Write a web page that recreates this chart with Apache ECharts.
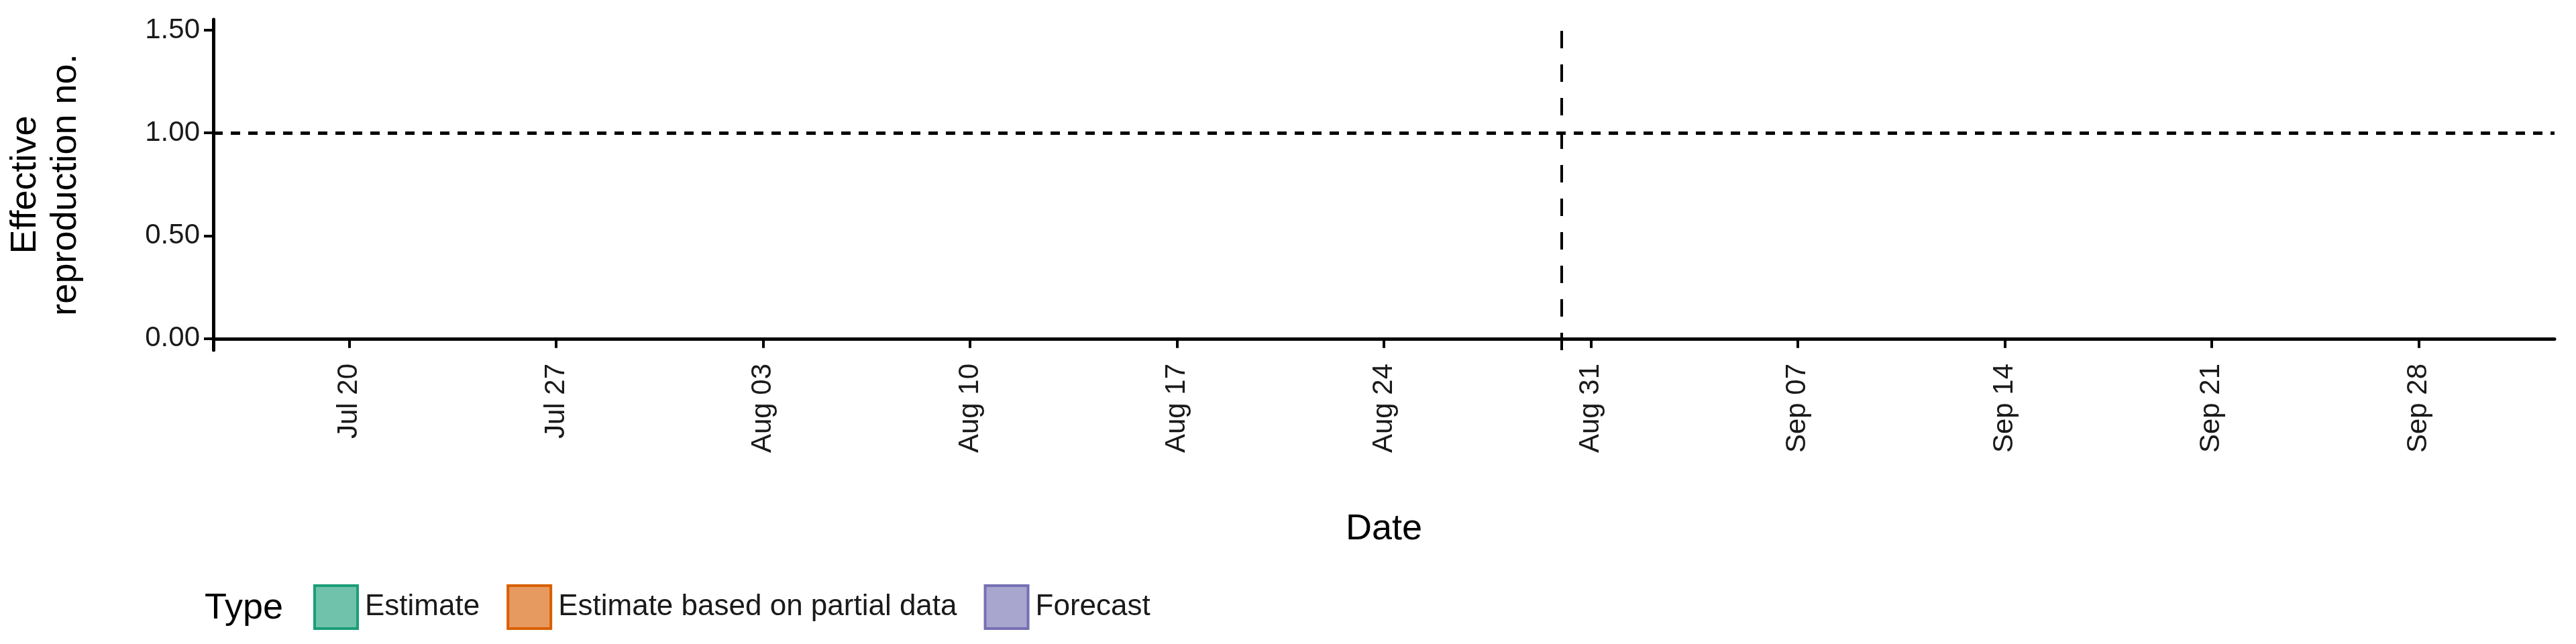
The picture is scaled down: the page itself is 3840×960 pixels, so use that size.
<!DOCTYPE html>
<html>
<head>
<meta charset="utf-8">
<script src="https://cdn.jsdelivr.net/npm/echarts@6/dist/echarts.min.js"></script>
<style>
  html, body { margin: 0; padding: 0; background: #fff; }
  #chart { width: 3840px; height: 960px; }
</style>
</head>
<body>
<div id="chart"></div>
<script>
// start dates of each part
var estStart = '2020-07-19';
var partialStart = '2020-08-13';
var forecastStart = '2020-08-31';
var cutoffDate = '2020-08-30';

// Estimate (Jul 19 - Aug 12)
var estOuterLow = [0.886, 0.875, 0.872, 0.863, 0.854, 0.851, 0.828, 0.828, 0.816, 0.814, 0.807, 0.807, 0.805, 0.793, 0.787, 0.779, 0.779, 0.777, 0.776, 0.775, 0.758, 0.748, 0.740, 0.728, 0.731];
var estInnerLow = [0.951, 0.945, 0.947, 0.947, 0.941, 0.940, 0.933, 0.931, 0.927, 0.922, 0.919, 0.919, 0.916, 0.912, 0.907, 0.903, 0.900, 0.899, 0.898, 0.898, 0.892, 0.889, 0.886, 0.881, 0.875];
var estInnerHigh = [1.006, 1.006, 1.009, 1.009, 1.006, 1.006, 1.001, 0.998, 0.998, 0.997, 0.996, 0.996, 0.995, 0.995, 0.995, 0.994, 0.994, 0.994, 0.993, 0.993, 0.993, 0.992, 0.992, 0.991, 0.990];
var estOuterHigh = [1.109, 1.107, 1.103, 1.105, 1.088, 1.080, 1.066, 1.066, 1.064, 1.050, 1.048, 1.048, 1.041, 1.044, 1.050, 1.050, 1.047, 1.047, 1.050, 1.052, 1.053, 1.054, 1.056, 1.056, 1.066];

// Estimate based on partial data (Aug 13 - Aug 30)
var partOuterLow = [0.731, 0.711, 0.701, 0.672, 0.658, 0.656, 0.617, 0.578, 0.570, 0.564, 0.561, 0.535, 0.509, 0.503, 0.509, 0.498, 0.441, 0.426];
var partInnerLow = [0.878, 0.872, 0.872, 0.869, 0.861, 0.856, 0.860, 0.860, 0.851, 0.848, 0.848, 0.840, 0.831, 0.828, 0.831, 0.818, 0.822, 0.824];
var partInnerHigh = [1.004, 1.006, 1.008, 1.007, 1.007, 1.009, 1.014, 1.015, 1.014, 1.015, 1.018, 1.015, 1.015, 1.015, 1.021, 1.012, 1.018, 1.025];
var partOuterHigh = [1.085, 1.089, 1.107, 1.097, 1.118, 1.142, 1.132, 1.117, 1.136, 1.155, 1.176, 1.182, 1.183, 1.188, 1.214, 1.224, 1.199, 1.200];

// Forecast (Aug 31 - Sep 29)
var fcOuterLow = [0.409, 0.400, 0.392, 0.385, 0.438, 0.433, 0.345, 0.395, 0.386, 0.371, 0.375, 0.377, 0.377, 0.377, 0.356, 0.371, 0.363, 0.299, 0.304, 0.303, 0.303, 0.324, 0.303, 0.293, 0.286, 0.280, 0.283, 0.280, 0.258, 0.254];
var fcInnerLow = [0.824, 0.822, 0.814, 0.810, 0.804, 0.795, 0.793, 0.793, 0.799, 0.804, 0.802, 0.802, 0.802, 0.796, 0.795, 0.793, 0.787, 0.781, 0.785, 0.785, 0.787, 0.783, 0.781, 0.781, 0.783, 0.779, 0.772, 0.766, 0.761, 0.769];
var fcInnerHigh = [1.033, 1.036, 1.033, 1.030, 1.030, 1.027, 1.025, 1.027, 1.036, 1.047, 1.048, 1.050, 1.053, 1.044, 1.048, 1.050, 1.048, 1.041, 1.048, 1.053, 1.054, 1.066, 1.060, 1.062, 1.068, 1.056, 1.056, 1.056, 1.059, 1.068];
var fcOuterHigh = [1.203, 1.224, 1.234, 1.253, 1.322, 1.335, 1.265, 1.329, 1.331, 1.322, 1.334, 1.345, 1.361, 1.378, 1.367, 1.388, 1.388, 1.334, 1.349, 1.355, 1.361, 1.393, 1.381, 1.388, 1.396, 1.407, 1.437, 1.437, 1.446, 1.474];

var xTicks = ['2020-07-20', '2020-07-27', '2020-08-03', '2020-08-10', '2020-08-17', '2020-08-24', '2020-08-31', '2020-09-07', '2020-09-14', '2020-09-21', '2020-09-28'];
var yTicks = [0, 0.5, 1, 1.5];
var typeNames = ['Estimate', 'Estimate based on partial data', 'Forecast'];

var MONTHS = ['Jan', 'Feb', 'Mar', 'Apr', 'May', 'Jun', 'Jul', 'Aug', 'Sep', 'Oct', 'Nov', 'Dec'];
// x is measured in days since epoch (value axis)
function day(s) { var p = s.split('-'); return Date.UTC(+p[0], +p[1] - 1, +p[2]) / 86400000; }
function fmtDate(v) {
  var d = new Date(Math.round(v) * 86400000);
  var dd = d.getUTCDate();
  return MONTHS[d.getUTCMonth()] + ' ' + (dd < 10 ? '0' + dd : dd);
}

var series = [];
// one band = invisible base + filled difference, stacked
function band(id, start, low, high, fill, edge) {
  var d0 = day(start);
  series.push({
    type: 'line', stack: id, symbol: 'none', silent: true,
    lineStyle: { opacity: 0 },
    data: low.map(function (v, i) { return [d0 + i, v]; })
  });
  series.push({
    type: 'line', stack: id, symbol: 'none', silent: true,
    lineStyle: edge ? { color: edge, width: 2 } : { opacity: 0 },
    areaStyle: { color: fill, opacity: 1 },
    data: high.map(function (v, i) { return [d0 + i, v - low[i]]; })
  });
}
band('e1', estStart, estOuterLow, estOuterHigh, '#c4e6dc', '#8dd0bb');
band('e2', estStart, estInnerLow, estInnerHigh, '#70c2ab', null);
band('p1', partialStart, partOuterLow, partOuterHigh, '#f5d6bd', '#eeae80');
band('p2', partialStart, partInnerLow, partInnerHigh, '#e69a60', null);
band('f1', forecastStart, fcOuterLow, fcOuterHigh, '#dcdbeb', '#b8b5d8');
band('f2', forecastStart, fcInnerLow, fcInnerHigh, '#a8a5cf', null);

// reference lines
series.push({
  type: 'line', data: [], silent: true,
  markLine: {
    symbol: 'none', silent: true, label: { show: false },
    data: [
      { yAxis: 1, lineStyle: { color: '#000', width: 5, type: [14, 12] } },
      { xAxis: day(cutoffDate), lineStyle: { color: '#000', width: 4, type: [26, 24] } }
    ]
  }
});

// legend entries
var legendFill = ['#70c2ab', '#e69a60', '#a8a5cf'];
var legendEdge = ['#1b9e77', '#d95f02', '#7570b3'];
typeNames.forEach(function (n, i) {
  series.push({
    type: 'line', name: n, data: [], symbol: 'rect',
    lineStyle: { opacity: 0 },
    itemStyle: { color: legendFill[i], borderColor: legendEdge[i], borderWidth: 4 }
  });
});

var chart = echarts.init(document.getElementById('chart'));
chart.setOption({
  animation: false,
  grid: { left: 306, right: 32, top: 29, bottom: 438 },
  legend: {
    data: typeNames,
    left: 462, top: 866,
    icon: 'rect',
    itemWidth: 64, itemHeight: 64, itemGap: 40,
    itemStyle: { borderWidth: 4 },
    textStyle: { fontFamily: 'Liberation Sans', fontSize: 44, color: '#1a1a1a', padding: [0, 0, 0, 6] }
  },
  graphic: [{
    type: 'text', left: 305, top: 880,
    style: { text: 'Type', fontFamily: 'Liberation Sans', fontSize: 54, fill: '#000' }
  }],
  xAxis: {
    type: 'value',
    min: day('2020-07-15') + 0.4,
    max: day('2020-10-02') + 0.6,
    name: 'Date', nameLocation: 'middle', nameGap: 240,
    nameTextStyle: { fontFamily: 'Liberation Sans', fontSize: 54, color: '#000' },
    axisLine: { lineStyle: { color: '#000', width: 5 } },
    axisTick: { customValues: xTicks.map(day), length: 14, lineStyle: { color: '#000', width: 4 } },
    axisLabel: {
      customValues: xTicks.map(day), rotate: 90, margin: 20,
      fontFamily: 'Liberation Sans', fontSize: 42, color: '#1a1a1a',
      formatter: function (v) { return fmtDate(v); }
    },
    splitLine: { show: false }
  },
  yAxis: {
    type: 'value', min: -0.056, max: 1.552,
    name: 'Effective\nreproduction no.', nameLocation: 'middle', nameGap: 190,
    nameTextStyle: { fontFamily: 'Liberation Sans', fontSize: 54, color: '#000', lineHeight: 60 },
    axisLine: { show: true, lineStyle: { color: '#000', width: 5 } },
    axisTick: { show: true, customValues: yTicks, length: 14, lineStyle: { color: '#000', width: 4 } },
    axisLabel: {
      customValues: yTicks, margin: 20,
      fontFamily: 'Liberation Sans', fontSize: 42, color: '#1a1a1a',
      formatter: function (v) { return v.toFixed(2); }
    },
    splitLine: { show: false }
  },
  series: series
});
</script>
</body>
</html>
